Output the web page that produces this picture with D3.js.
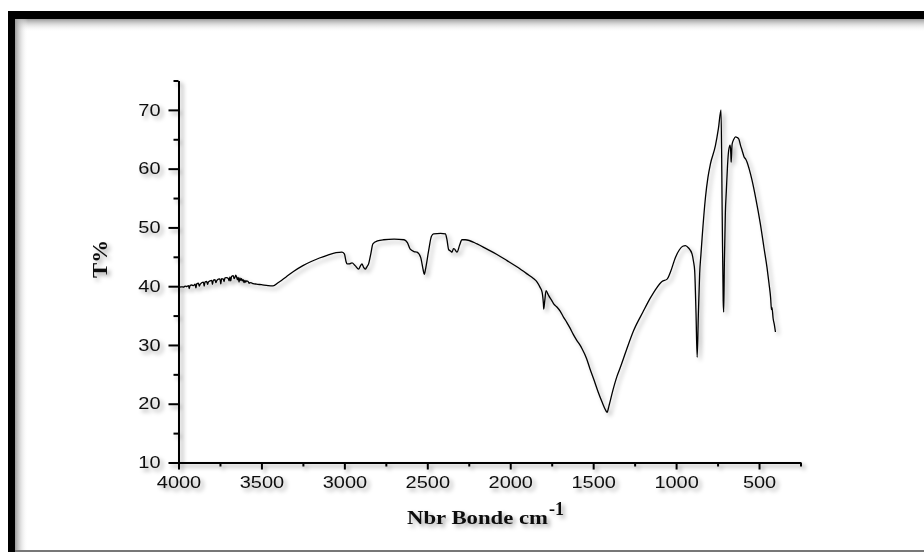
<!DOCTYPE html>
<html>
<head>
<meta charset="utf-8">
<script src="https://d3js.org/d3.v7.min.js"></script>
<style>
	body { margin: 0; background: #fff; }
	svg { display: block; }
</style>
</head>
<body>
<div id="chart"></div>
<script>
// wavenumber (cm-1), high to low
const wavenumbers = [
	4000, 3990, 3980, 3970, 3960, 3950, 3940, 3935, 3930, 3920, 3910, 3900, 3895, 3890, 3880, 3875, 3870, 3860, 3850, 3845, 3840,
	3830, 3825, 3820, 3810, 3800, 3795, 3790, 3780, 3775, 3770, 3760, 3750, 3745, 3740, 3730, 3725, 3720, 3710, 3700, 3695, 3690, 3685, 3680, 3670,
	3665, 3660, 3655, 3650, 3645, 3640, 3635, 3630, 3625, 3620, 3615, 3610, 3605, 3600, 3595, 3590, 3580, 3575, 3570, 3560, 3550, 3530, 3500, 3460, 3430,
	3400, 3350, 3307, 3250, 3200, 3150, 3100, 3050, 3015, 3000, 2990, 2984, 2970, 2954, 2935, 2914, 2904, 2894, 2884, 2874, 2864, 2854,
	2840, 2828, 2800, 2764, 2700, 2640, 2620, 2603, 2580, 2562, 2540, 2525, 2518, 2510, 2492, 2475, 2462, 2420, 2391,
	2382, 2371, 2360, 2351, 2342, 2335, 2328, 2321, 2305, 2291, 2271, 2200, 2140, 2080, 2019, 1960, 1899, 1860, 1838,
	1820, 1808, 1800, 1798, 1792, 1784, 1770, 1760, 1750, 1738, 1720, 1700, 1678, 1660, 1640, 1620, 1597, 1580, 1567,
	1540, 1520, 1497, 1470, 1445, 1425, 1416, 1405, 1380, 1356, 1336, 1300, 1256, 1200, 1155, 1120, 1085, 1054, 1034,
	1004, 980, 960, 944, 925, 904, 895, 888, 880, 873, 866, 858, 850, 843, 823, 808, 793, 763, 745, 729,
	722, 716, 713, 709, 703, 697, 690, 683, 674, 670, 668, 664, 662, 652, 642, 632, 622, 612, 602, 590,
	580, 572, 560, 542, 520, 492, 470, 452, 440, 430, 425, 422, 415, 408, 401
];

// transmittance (%) at each wavenumber above
const transmittance = [
	39.8, 39.85, 39.9, 39.85, 40.0, 39.95, 40.1, 39.6, 40.15, 40.2, 40.1, 40.35, 39.7, 40.4, 40.5, 40.0, 40.3, 40.6, 40.7, 40.0, 40.75,
	40.8, 40.3, 40.7, 40.9, 41.0, 40.3, 41.05, 41.1, 40.6, 40.9, 41.2, 41.25, 40.4, 41.3, 41.2, 40.8, 41.4, 41.45, 41.3, 40.9, 41.6, 40.9, 41.65, 41.8,
	41.3, 41.5, 41.9, 41.6, 41.1, 41.5, 40.7, 41.4, 41.0, 41.3, 40.9, 41.1, 40.6, 41.0, 40.7, 40.9, 40.8, 40.5, 40.6, 40.55, 40.45, 40.35, 40.25, 40.1, 40.05,
	40.6, 41.6, 42.5, 43.5, 44.2, 44.8, 45.3, 45.7, 45.8, 45.5, 44.2, 43.8, 43.8, 43.96, 43.5, 42.9, 43.4, 43.8, 43.2, 42.9, 43.3, 43.8,
	45.6, 47.2, 47.7, 47.9, 48.0, 47.9, 47.4, 46.3, 45.9, 45.8, 44.9, 42.8, 42.0, 43.0, 46.05, 48.5, 48.9, 49.0, 48.9,
	48.0, 46.2, 46.0, 45.8, 46.4, 46.3, 46.0, 45.8, 47.0, 47.9, 47.9, 47.2, 46.3, 45.4, 44.35, 43.3, 42.1, 41.3, 40.7,
	39.8, 39.0, 37.0, 36.1, 37.5, 39.25, 38.5, 38.0, 37.6, 37.0, 36.5, 35.8, 34.7, 33.9, 32.9, 31.8, 30.7, 30.0, 29.35,
	27.7, 26.0, 24.2, 22.0, 20.2, 18.9, 18.55, 19.6, 22.4, 24.7, 26.2, 29.1, 32.45, 35.6, 38.0, 39.6, 40.8, 41.2, 42.4,
	44.9, 46.2, 46.8, 46.9, 46.5, 45.5, 44.2, 42.65, 35.5, 27.9, 35.0, 42.1, 45.5, 48.3, 55.1, 58.5, 60.8, 63.9, 66.8, 70.0,
	52.0, 37.5, 35.6, 44.0, 52.5, 56.3, 60.5, 63.1, 64.0, 62.5, 61.1, 63.5, 64.2, 65.0, 65.4, 65.3, 65.05, 64.0, 63.1, 62.0,
	61.6, 61.1, 60.0, 58.0, 55.0, 50.6, 46.5, 43.2, 40.5, 38.0, 36.0, 36.4, 34.5, 33.5, 32.2
];

// axis ticks
const xMajorTicks = [4000, 3500, 3000, 2500, 2000, 1500, 1000, 500];
const xMinorTicks = [3750, 3250, 2750, 2250, 1750, 1250, 750, 250];
const yMajorTicks = [10, 20, 30, 40, 50, 60, 70];
const yMinorTicks = [15, 25, 35, 45, 55, 65, 75];

(function() {
	const width = 924;
	const height = 552;

	// plot area (pixels)
	const plot = { left: 178.5, right: 800.5, top: 80.5, bottom: 462.5 };

	const data = wavenumbers.map((w, i) => ({ w: w, t: transmittance[i] }));

	const svg = d3.select('#chart')
		.append('svg')
		.attr('width', width)
		.attr('height', height);

	const defs = svg.append('defs');

	// soft drop shadow used on everything in the chart
	const shadow = defs.append('filter')
		.attr('id', 'shadow')
		.attr('x', '-20%').attr('y', '-20%')
		.attr('width', '140%').attr('height', '140%');
	shadow.append('feDropShadow')
		.attr('dx', 3).attr('dy', 3)
		.attr('stdDeviation', 2.2)
		.attr('flood-color', '#000')
		.attr('flood-opacity', 0.35);

	// inner shadow gradients for the frame
	const gTop = defs.append('linearGradient')
		.attr('id', 'gradTop').attr('x1', 0).attr('y1', 0).attr('x2', 0).attr('y2', 1);
	gTop.append('stop').attr('offset', '0%').attr('stop-color', '#9a9a9a');
	gTop.append('stop').attr('offset', '100%').attr('stop-color', '#fff').attr('stop-opacity', 0);
	const gLeft = defs.append('linearGradient')
		.attr('id', 'gradLeft').attr('x1', 0).attr('y1', 0).attr('x2', 1).attr('y2', 0);
	gLeft.append('stop').attr('offset', '0%').attr('stop-color', '#9a9a9a');
	gLeft.append('stop').attr('offset', '100%').attr('stop-color', '#fff').attr('stop-opacity', 0);

	// frame: thick black top and left edges, thin gray bottom line
	svg.append('rect').attr('x', 15).attr('y', 19).attr('width', width - 15).attr('height', 13).style('fill', 'url(#gradTop)');
	svg.append('rect').attr('x', 15).attr('y', 19).attr('width', 13).attr('height', height - 19).style('fill', 'url(#gradLeft)');
	svg.append('rect').attr('x', 8).attr('y', 11).attr('width', width - 8).attr('height', 8).style('fill', '#000');
	svg.append('rect').attr('x', 8).attr('y', 11).attr('width', 7).attr('height', height - 11).style('fill', '#000');
	svg.append('rect').attr('x', 15).attr('y', 550).attr('width', width - 15).attr('height', 2).style('fill', '#777');

	// scales
	const x = d3.scaleLinear().domain([4000, 250]).range([plot.left, plot.right]);
	const y = d3.scaleLinear().domain([10, 75]).range([plot.bottom, plot.top]);

	const g = svg.append('g').attr('filter', 'url(#shadow)');

	// x axis: major ticks with labels, minor ticks without
	const xAxis = g.append('g')
		.attr('transform', `translate(0,${plot.bottom})`)
		.call(d3.axisBottom(x).tickValues(xMajorTicks).tickFormat(d3.format('d')).tickSize(7).tickSizeOuter(0).tickPadding(6));
	g.append('g')
		.attr('transform', `translate(0,${plot.bottom})`)
		.call(d3.axisBottom(x).tickValues(xMinorTicks).tickSize(4).tickSizeOuter(0).tickFormat(''))
		.select('.domain').remove();

	// y axis
	const yAxis = g.append('g')
		.attr('transform', `translate(${plot.left},0)`)
		.call(d3.axisLeft(y).tickValues(yMajorTicks).tickFormat(d3.format('d')).tickSize(10).tickSizeOuter(0).tickPadding(8));
	g.append('g')
		.attr('transform', `translate(${plot.left},0)`)
		.call(d3.axisLeft(y).tickValues(yMinorTicks).tickSize(5).tickSizeOuter(0).tickFormat(''))
		.select('.domain').remove();

	g.selectAll('.domain, .tick line')
		.style('stroke', '#000')
		.style('stroke-width', 2);

	// tick labels: Arial-like, stretched wide
	[xAxis, yAxis].forEach(ax => {
		ax.selectAll('.tick text')
			.style('font-family', '"Liberation Sans", Arial, sans-serif')
			.style('font-size', '16px')
			.style('fill', '#111')
			.attr('lengthAdjust', 'spacingAndGlyphs')
			.attr('textLength', d => String(d).length * 11.1);
	});
	xAxis.selectAll('.tick text').attr('dy', '0.71em').attr('y', 14);

	// spectrum line
	const line = d3.line()
		.x(d => x(d.w))
		.y(d => y(d.t))
		.curve(d3.curveMonotoneX);

	g.append('path')
		.datum(data)
		.attr('d', line)
		.style('fill', 'none')
		.style('stroke', '#000')
		.style('stroke-width', 1.3)
		.style('stroke-linejoin', 'round');

	// axis titles
	const serif = '"Liberation Serif", "Times New Roman", serif';

	const xTitle = g.append('text')
		.attr('x', 407)
		.attr('y', 524)
		.style('font-family', serif)
		.style('font-weight', 'bold')
		.style('font-size', '19px')
		.style('fill', '#111');
	xTitle.append('tspan')
		.attr('lengthAdjust', 'spacingAndGlyphs')
		.attr('textLength', 141)
		.text('Nbr Bonde cm');
	xTitle.append('tspan')
		.attr('dy', -9)
		.attr('dx', 1)
		.style('font-size', '18px')
		.text('-1');

	g.append('text')
		.attr('transform', 'translate(107,259) rotate(-90)')
		.attr('text-anchor', 'middle')
		.attr('lengthAdjust', 'spacingAndGlyphs')
		.attr('textLength', 38)
		.style('font-family', serif)
		.style('font-weight', 'bold')
		.style('font-size', '22px')
		.style('fill', '#111')
		.text('T%');
}());
</script>
</body>
</html>
